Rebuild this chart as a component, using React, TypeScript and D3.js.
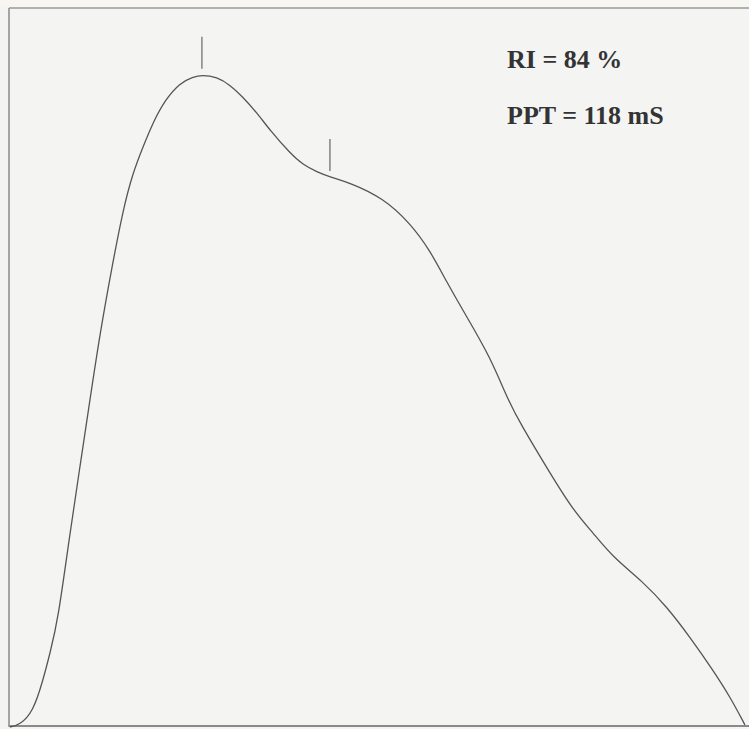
import React from "react";
import * as d3 from "d3";

// Doppler-style waveform samples: time (ms) and normalised amplitude (%)
const timeMs = [0.6, 6.7, 14.7, 20.8, 25.1, 30.0, 37.3, 43.4, 49.5, 55.7, 63.0, 69.7, 75.8, 82.0, 88.1, 95.4, 104.6, 112.5, 118.0, 127.2, 135.2, 143.1, 151.7, 159.6, 171.9, 179.8, 188.4, 196.3, 208.6, 228.7, 245.3, 257.5, 267.9, 280.1, 294.2, 305.2, 312.5, 330.9, 344.9, 357.2, 369.4, 387.8, 402.4, 416.5, 430.6, 441.0, 450.1];
const amplitude = [0, 0.3, 2.1, 6.5, 10.3, 14.9, 27.0, 36.2, 45.5, 54.8, 64.0, 71.9, 77.1, 80.7, 84.1, 87.2, 89.6, 90.4, 90.7, 90.4, 89.3, 87.6, 85.4, 83.0, 79.8, 78.2, 77.2, 76.5, 75.7, 73.6, 70.1, 66.3, 61.8, 57.0, 51.5, 45.5, 42.3, 35.3, 30.2, 27.0, 23.6, 20.2, 16.7, 12.5, 7.9, 4.2, 0.3];

// Marked events on the waveform (systolic peak and secondary notch)
const markerTimes = [118, 196.3];

// Annotation labels
const labels = ["RI = 84 %", "PPT = 118 mS"];

const W = 749;
const H = 729;

export default function App() {
  const left = 9;
  const right = 748;
  const top = 8;
  const bottom = 727;

  const x = d3.scaleLinear().domain([0, 452]).range([left, right]);
  const y = d3.scaleLinear().domain([0, 100]).range([bottom, top]);

  const pts: [number, number][] = timeMs.map((t, i) => [t, amplitude[i]]);
  const line = d3
    .line<[number, number]>()
    .x((d) => x(d[0]))
    .y((d) => y(d[1]))
    .curve(d3.curveBasis);

  const interp = (t: number) => {
    const i = d3.bisector((d: number) => d).left(timeMs, t);
    if (i <= 0) return amplitude[0];
    if (i >= timeMs.length) return amplitude[amplitude.length - 1];
    const t0 = timeMs[i - 1], t1 = timeMs[i];
    const f = (t - t0) / (t1 - t0);
    return amplitude[i - 1] + f * (amplitude[i] - amplitude[i - 1]);
  };

  return (
    <div style={{ position: "fixed", left: 0, top: 0, width: W, height: H }}>
      <svg width={W} height={H} style={{ display: "block" }}>
        <rect x={0} y={0} width={W} height={H} fill="#f4f4f3" />
        <rect x={0} y={0} width={W} height={7} fill="#f7f6f1" />
        {/* frame */}
        <line x1={left} y1={top} x2={W} y2={top} stroke="#9a9a9a" strokeWidth={1.5} />
        <line x1={left} y1={top} x2={left} y2={bottom} stroke="#8a8a8a" strokeWidth={1.5} />
        <line x1={left} y1={bottom - 1} x2={W} y2={bottom - 1} stroke="#8a8a8a" strokeWidth={2.2} />
        {/* waveform */}
        <path d={line(pts) || ""} fill="none" stroke="#555" strokeWidth={1.3} />
        {/* event markers */}
        {markerTimes.map((t, i) => {
          const cy = y(interp(t));
          return (
            <line
              key={i}
              x1={x(t)}
              x2={x(t)}
              y1={cy - 6}
              y2={cy - 38}
              stroke="#666"
              strokeWidth={1.2}
            />
          );
        })}
        {/* annotations */}
        {labels.map((s, i) => (
          <text
            key={i}
            x={507}
            y={68 + i * 56}
            fontFamily="'Liberation Serif', 'Times New Roman', serif"
            fontWeight="bold"
            fontSize={26}
            fill="#333"
          >
            {s}
          </text>
        ))}
      </svg>
    </div>
  );
}
